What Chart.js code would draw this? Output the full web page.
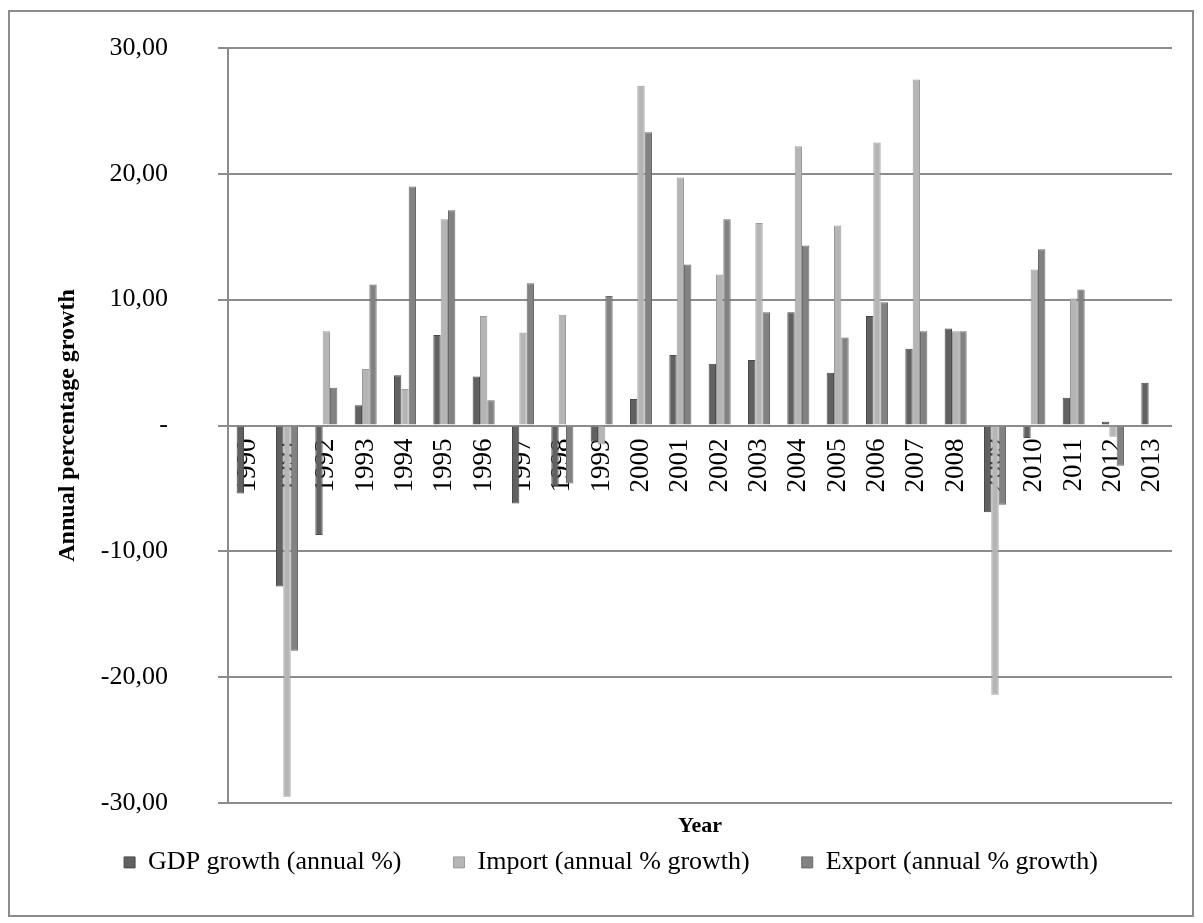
<!DOCTYPE html>
<html>
<head>
<meta charset="utf-8">
<script src="https://cdn.jsdelivr.net/npm/chart.js@4"></script>
<style>
  body { margin: 0; background: #fff; }
</style>
</head>
<body>
<canvas id="myChart" width="1203" height="923"></canvas>
<script>
const years = ["1990", "1991", "1992", "1993", "1994", "1995", "1996", "1997",
  "1998", "1999", "2000", "2001", "2002", "2003", "2004", "2005", "2006",
  "2007", "2008", "2009", "2010", "2011", "2012", "2013"];

const gdpGrowth = [-5.4, -12.8, -8.7, 1.6, 4.0, 7.2, 3.9, -6.2, -4.8, -1.3, 2.1,
  5.6, 4.9, 5.2, 9.0, 4.2, 8.7, 6.1, 7.7, -6.9, -1.0, 2.2, 0.3, 3.4];
const importGrowth = [null, -29.5, 7.5, 4.5, 2.9, 16.4, 8.7, 7.4, 8.8, -1.5, 27.0,
  19.7, 12.0, 16.1, 22.2, 15.9, 22.5, 27.5, 7.5, -21.4, 12.4, 10.1, -0.9, null];
const exportGrowth = [null, -17.9, 3.0, 11.2, 19.0, 17.1, 2.0, 11.3, -4.6, 10.3, 23.3,
  12.8, 16.4, 9.0, 14.3, 7.0, 9.8, 7.5, 7.5, -6.3, 14.0, 10.8, -3.2, null];

const yTicks = [-30, -20, -10, 0, 10, 20, 30];

const serif = "'Liberation Serif', 'Times New Roman', serif";

// grey frame around the whole figure
const frame = {
  id: "frame",
  beforeDraw(chart) {
    const c = chart.ctx;
    c.save();
    c.strokeStyle = "#8c8c8c";
    c.lineWidth = 2;
    c.strokeRect(9, 11, 1184, 905);
    c.restore();
  },
};

const ctx = document.getElementById("myChart").getContext("2d");
const myChart = new Chart(ctx, {
  type: "bar",
  data: {
    labels: years,
    datasets: [
      {
        label: "GDP growth (annual %)",
        data: gdpGrowth,
        backgroundColor: "#616161",
        borderColor: "#4a4a4a",
        borderWidth: 1,
      },
      {
        label: "Import (annual % growth)",
        data: importGrowth,
        backgroundColor: "#b5b5b5",
        borderColor: "#9c9c9c",
        borderWidth: 1,
      },
      {
        label: "Export (annual % growth)",
        data: exportGrowth,
        backgroundColor: "#828282",
        borderColor: "#6a6a6a",
        borderWidth: 1,
      },
    ],
  },
  options: {
    responsive: false,
    animation: false,
    categoryPercentage: 0.56,
    barPercentage: 1,
    layout: { padding: { left: 50, right: 31, top: 48, bottom: 32 } },
    scales: {
      x: {
        position: { y: 0 },
        grid: { display: false },
        border: { display: false },
        ticks: {
          autoSkip: false,
          minRotation: 90,
          maxRotation: 90,
          padding: 5,
          color: "#000",
          font: { family: serif, size: 27 },
        },
      },
      y: {
        min: -30,
        max: 30,
        afterBuildTicks: (scale) => {
          scale.ticks = yTicks.map((v) => ({ value: v }));
        },
        afterFit: (scale) => {
          // fixed axis width; the big label gap should not push the plot down
          scale.width = 178;
          scale.paddingTop = 16;
          scale.paddingBottom = 16;
        },
        grid: { color: "#8c8c8c", lineWidth: 2, tickLength: 10 },
        border: { color: "#8c8c8c", width: 2 },
        ticks: {
          padding: 50,
          color: "#000",
          font: { family: serif, size: 26 },
          callback: (v) => (v === 0 ? "-" : v.toFixed(2).replace(".", ",")),
        },
        title: {
          display: true,
          text: "Annual percentage growth",
          color: "#000",
          padding: { top: 3, bottom: 0 },
          font: { family: serif, size: 24, weight: "bold" },
        },
      },
    },
    plugins: {
      title: {
        display: true,
        text: "Year",
        position: "bottom",
        fullSize: false,
        weight: 500,
        color: "#000",
        padding: { top: 10, bottom: -42 },
        font: { family: serif, size: 22, weight: "bold" },
      },
      legend: {
        position: "bottom",
        labels: {
          boxWidth: 11,
          boxHeight: 11,
          padding: 52,
          color: "#000",
          font: { family: serif, size: 26 },
        },
      },
      tooltip: { enabled: false },
    },
  },
  plugins: [frame],
});
</script>
</body>
</html>
